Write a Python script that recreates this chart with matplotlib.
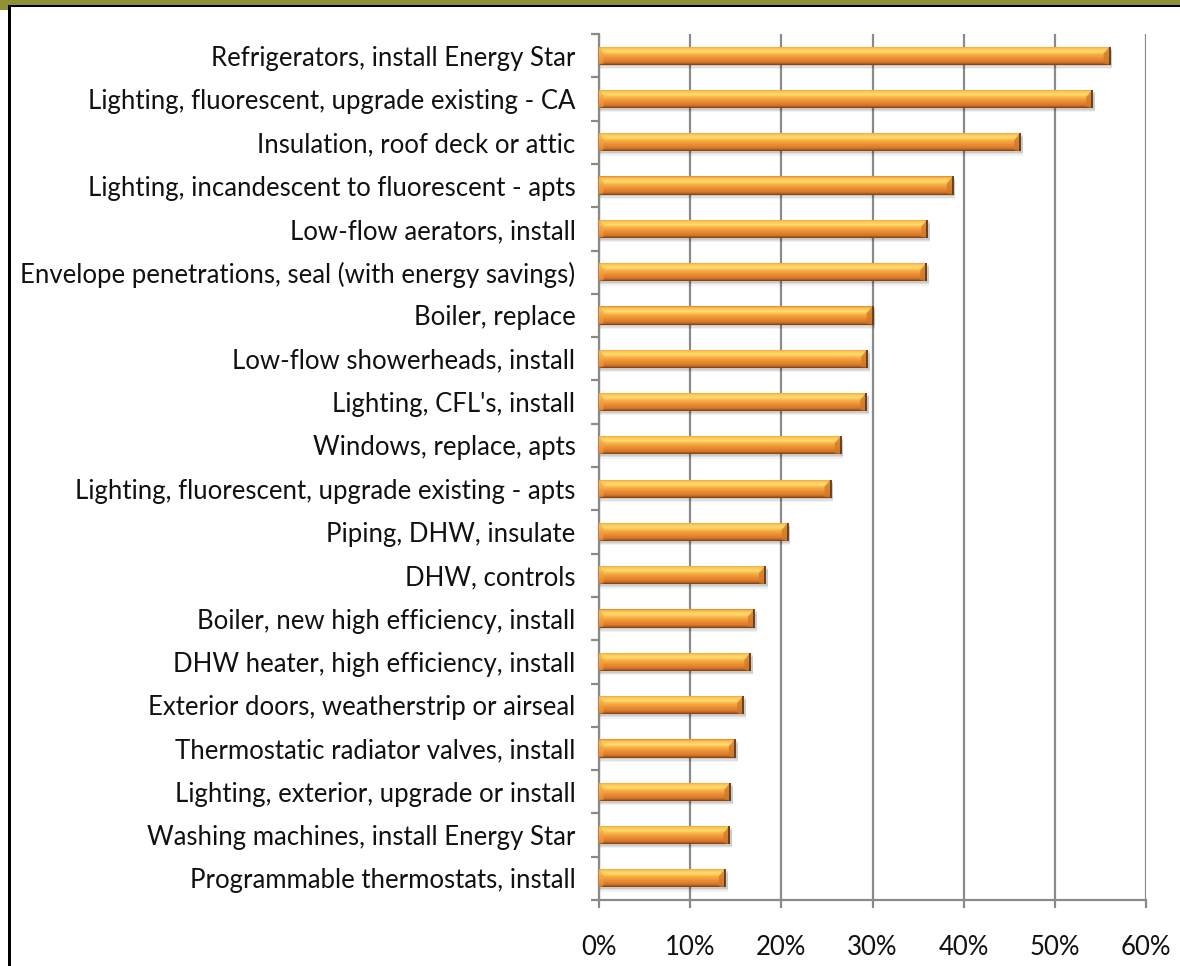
import matplotlib
matplotlib.use("Agg")
import matplotlib.pyplot as plt
import numpy as np
from matplotlib.patches import Rectangle, Polygon
from matplotlib.colors import LinearSegmentedColormap

measures = [
    "Refrigerators, install Energy Star",
    "Lighting, fluorescent, upgrade existing - CA",
    "Insulation, roof deck or attic",
    "Lighting, incandescent to fluorescent - apts",
    "Low-flow aerators, install",
    "Envelope penetrations, seal (with energy savings)",
    "Boiler, replace",
    "Low-flow showerheads, install",
    "Lighting, CFL's, install",
    "Windows, replace, apts",
    "Lighting, fluorescent, upgrade existing - apts",
    "Piping, DHW, insulate",
    "DHW, controls",
    "Boiler, new high efficiency, install",
    "DHW heater, high efficiency, install",
    "Exterior doors, weatherstrip or airseal",
    "Thermostatic radiator valves, install",
    "Lighting, exterior, upgrade or install",
    "Washing machines, install Energy Star",
    "Programmable thermostats, install",
]
share = [56.0, 54.1, 46.2, 38.8, 36.0, 35.9, 30.0, 29.4, 29.3, 26.5,
         25.4, 20.7, 18.2, 17.0, 16.6, 15.8, 14.9, 14.4, 14.3, 13.8]
xticks = [0, 10, 20, 30, 40, 50, 60]
xlabels = ["0%", "10%", "20%", "30%", "40%", "50%", "60%"]

plt.rcParams['font.family'] = ['Lato', 'DejaVu Sans']

fig = plt.figure(figsize=(11.8, 9.66), dpi=100)
fig.patch.set_facecolor("white")

# olive strip along the top and black frame lines
fig.patches.append(Rectangle((0, 1 - 5 / 966), 1, 5 / 966, transform=fig.transFigure,
                             facecolor="#8f9135", edgecolor="none", zorder=0))
fig.patches.append(Rectangle((0, 1 - 10 / 966), 8 / 1180, 5 / 966, transform=fig.transFigure,
                             facecolor="#8f9135", edgecolor="none", zorder=0))
fig.patches.append(Rectangle((8 / 1180, 1 - 7 / 966), 1, 2.5 / 966, transform=fig.transFigure,
                             facecolor="black", edgecolor="none", zorder=1))
fig.patches.append(Rectangle((8 / 1180, 0), 2.5 / 1180, 1 - 5 / 966, transform=fig.transFigure,
                             facecolor="black", edgecolor="none", zorder=1))

ax = fig.add_axes([599 / 1180, 66 / 966, 547 / 1180, 866 / 966])

ypos = np.arange(len(measures))
h = 0.42

# vertical shading of the bars, top to bottom
bar_cmap = LinearSegmentedColormap.from_list("bar", [
    (0.00, "#e8862a"), (0.10, "#fbc050"), (0.28, "#ffdd6e"), (0.45, "#f7ad45"),
    (0.65, "#ec8f33"), (0.85, "#d9772a"), (0.93, "#b0601e"), (1.00, "#7a3d12")])
grad = np.linspace(0, 1, 64).reshape(-1, 1)

for y, v in zip(ypos, share):
    top, bot = y - h / 2, y + h / 2
    # soft drop shadow
    for k, a in zip([0.10, 0.07, 0.04], [0.05, 0.07, 0.09]):
        ax.add_patch(Rectangle((0, top + k), v + 0.3, h, facecolor="black",
                               alpha=a, edgecolor="none", zorder=2))
    body = Rectangle((0, top), v, h, facecolor="#ec8f33", edgecolor="none", zorder=3)
    ax.add_patch(body)
    im = ax.imshow(grad, cmap=bar_cmap, aspect="auto", interpolation="bilinear",
                   extent=[0, v, bot, top], zorder=4)
    im.set_clip_path(body)
    # bevelled ends: narrow facets with a diagonal corner at the top
    ax.add_patch(Polygon([[v, top], [v, bot], [v - 0.65, bot - 0.03], [v - 0.65, top + 0.16]],
                         closed=True, facecolor="#d27a25", edgecolor="none", alpha=0.8, zorder=5))
    ax.add_patch(Polygon([[0, top], [0, bot], [0.5, bot - 0.03], [0.5, top + 0.13]],
                         closed=True, facecolor="#f4a040", edgecolor="none", alpha=0.6, zorder=5))
    ax.plot([v, v], [top, bot], color="#6b3510", lw=1.3, zorder=6, solid_capstyle="butt")

ax.set_xlim(0, 60)
ax.set_ylim(len(measures) - 0.5, -0.5)
ax.set_xticks(xticks)
ax.set_xticklabels(xlabels)
ax.set_yticks(ypos)
ax.set_yticklabels(measures)
ax.set_yticks(np.arange(-0.5, len(measures), 1), minor=True)

ax.grid(axis="x", color="#8a8a8a", lw=1.6, zorder=1)
ax.set_axisbelow(True)
for side in ["top", "right"]:
    ax.spines[side].set_visible(False)
for side in ["left", "bottom"]:
    ax.spines[side].set_color("#8a8a8a")
    ax.spines[side].set_linewidth(1.6)

ax.tick_params(axis="y", which="major", length=0, pad=17, labelsize=18.5, labelcolor="#111111")
ax.tick_params(axis="y", which="minor", length=5.5, width=1.6, color="#8a8a8a", direction="out")
ax.tick_params(axis="x", which="major", length=5.5, width=1.6, color="#8a8a8a",
               direction="out", pad=20, labelsize=18.5, labelcolor="#111111")

fig.savefig("out.png", dpi=100)
